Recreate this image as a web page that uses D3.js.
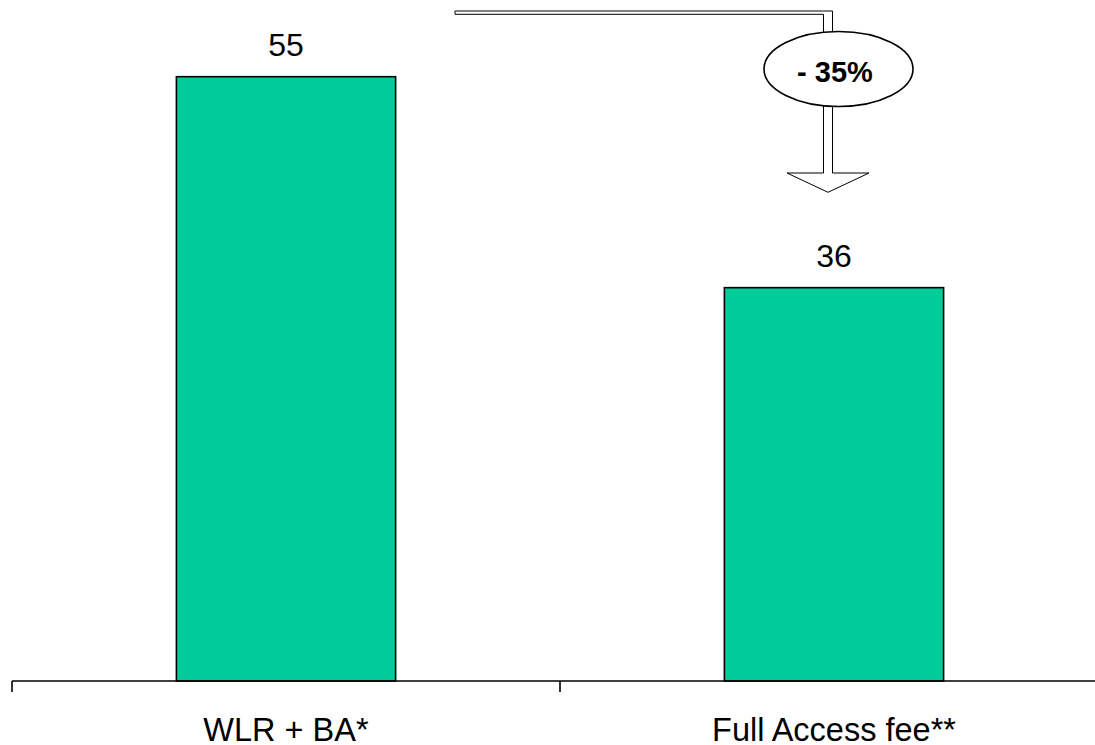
<!DOCTYPE html>
<html>
<head>
<meta charset="utf-8">
<script src="https://cdn.jsdelivr.net/npm/d3@7"></script>
<style>
  html, body { margin: 0; padding: 0; background: #fff; }
  svg { display: block; font-family: "Liberation Sans", Arial, sans-serif; }
</style>
</head>
<body>
<svg id="chart" width="1095" height="745"></svg>
<script>
const categories = ["WLR + BA*", "Full Access fee**"];
const values = [55, 35.8];
const valueLabels = ["55", "36"];
const changeLabel = "- 35%";

const W = 1095, H = 745;
const svg = d3.select("#chart");

const x = d3.scaleBand()
  .domain(categories)
  .range([12, 1108])
  .paddingInner(0.6)
  .paddingOuter(0.3);

const y = d3.scaleLinear()
  .domain([0, 55])
  .range([681, 76.7]);

const barColor = "#00CC99";

// bars
svg.selectAll("rect.bar")
  .data(categories)
  .enter().append("rect")
  .attr("class", "bar")
  .attr("x", d => x(d))
  .attr("y", (d, i) => y(values[i]))
  .attr("width", x.bandwidth())
  .attr("height", (d, i) => y(0) - y(values[i]))
  .attr("fill", barColor)
  .attr("stroke", "#000")
  .attr("stroke-width", 1.6);

// value labels
svg.selectAll("text.val")
  .data(categories)
  .enter().append("text")
  .attr("class", "val")
  .attr("x", d => x(d) + x.bandwidth() / 2)
  .attr("y", (d, i) => y(values[i]) - 21)
  .attr("text-anchor", "middle")
  .attr("font-size", 32)
  .attr("fill", "#000")
  .text((d, i) => valueLabels[i]);

// axis
const off = x.step() * x.paddingOuter();
const tickPos = categories.map(c => x(c) - off).concat([x(categories[categories.length - 1]) - off + x.step()]);
svg.append("line")
  .attr("x1", tickPos[0]).attr("x2", W)
  .attr("y1", y(0)).attr("y2", y(0))
  .attr("stroke", "#000").attr("stroke-width", 1.6);
svg.selectAll("line.tick")
  .data(tickPos)
  .enter().append("line")
  .attr("class", "tick")
  .attr("x1", d => d).attr("x2", d => d)
  .attr("y1", y(0)).attr("y2", y(0) + 11)
  .attr("stroke", "#000").attr("stroke-width", 1.6);

// category labels
svg.selectAll("text.cat")
  .data(categories)
  .enter().append("text")
  .attr("class", "cat")
  .attr("x", d => x(d) + x.bandwidth() / 2)
  .attr("y", 741)
  .attr("text-anchor", "middle")
  .attr("font-size", 32.5)
  .attr("fill", "#000")
  .text(d => d);

// change arrow annotation
const cx = x(categories[1]) + x.bandwidth() / 2 - 6; // shaft centre
const sw = 4.5;
const headY = 173, tipY = 192.3, headHalf = 41;
const path = d3.path();
path.moveTo(455, 11);
path.lineTo(cx + sw, 11);
path.lineTo(cx + sw, headY);
path.lineTo(cx + headHalf, headY);
path.lineTo(cx, tipY);
path.lineTo(cx - headHalf, headY);
path.lineTo(cx - sw, headY);
path.lineTo(cx - sw, 14.3);
path.lineTo(455, 14.3);
path.closePath();
svg.append("path")
  .attr("d", path.toString())
  .attr("fill", "#fff")
  .attr("stroke", "#000")
  .attr("stroke-width", 1);

svg.append("ellipse")
  .attr("cx", cx + 10.5)
  .attr("cy", 69)
  .attr("rx", 74.5)
  .attr("ry", 37.5)
  .attr("fill", "#fff")
  .attr("stroke", "#000")
  .attr("stroke-width", 1.6);

svg.append("text")
  .attr("x", cx + 7)
  .attr("y", 81.5)
  .attr("text-anchor", "middle")
  .attr("font-size", 29)
  .attr("font-weight", "bold")
  .attr("fill", "#000")
  .text(changeLabel);
</script>
</body>
</html>
